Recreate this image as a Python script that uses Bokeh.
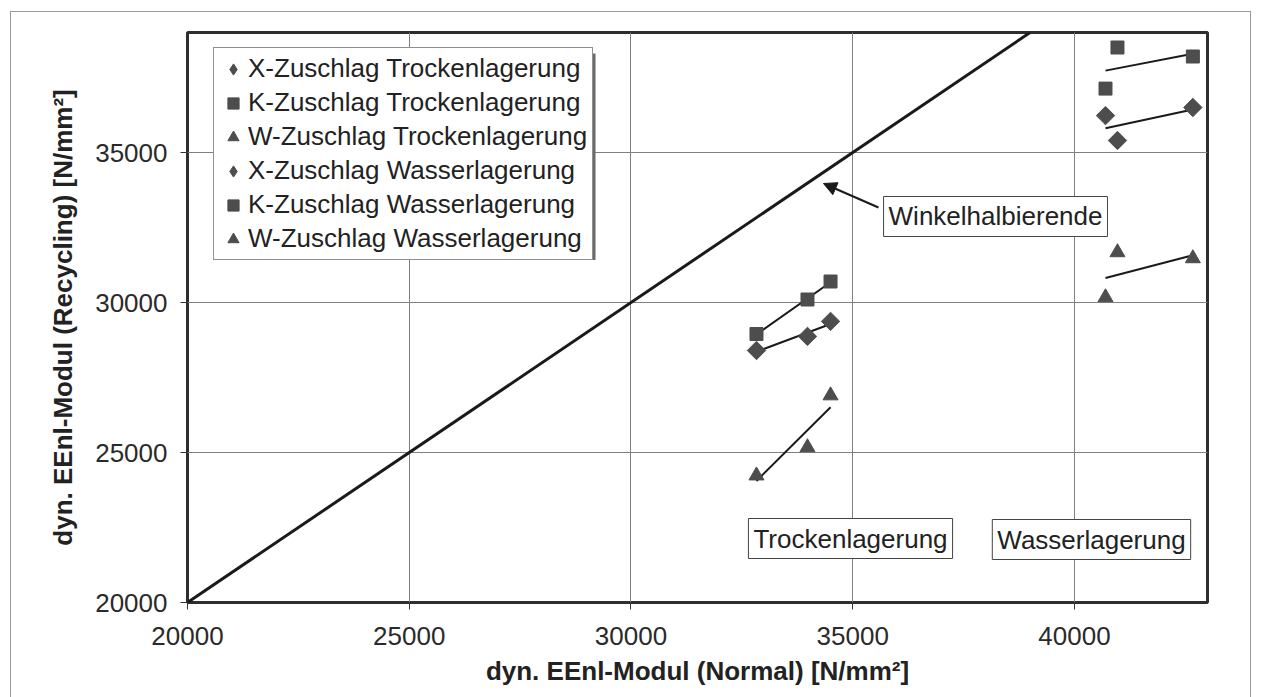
import numpy as np
from bokeh.plotting import figure
from bokeh.models import Label, Arrow, NormalHead, Legend, LegendItem, Range1d, BoxAnnotation
from bokeh.embed import file_html
from bokeh.resources import INLINE

# ---------------- data ----------------
x_trocken = [32830, 33980, 34500]
x_wasser = [40700, 40970, 42670]
x_zuschlag_trocken = [28400, 28870, 29370]
k_zuschlag_trocken = [28950, 30100, 30700]
w_zuschlag_trocken = [24230, 25170, 26900]
x_zuschlag_wasser = [36230, 35400, 36500]
k_zuschlag_wasser = [37130, 38500, 38200]
w_zuschlag_wasser = [30170, 31670, 31470]
series_names = [
    "X-Zuschlag Trockenlagerung",
    "K-Zuschlag Trockenlagerung",
    "W-Zuschlag Trockenlagerung",
    "X-Zuschlag Wasserlagerung",
    "K-Zuschlag Wasserlagerung",
    "W-Zuschlag Wasserlagerung",
]
x_ticks = [20000, 25000, 30000, 35000, 40000]
y_ticks = [20000, 25000, 30000, 35000]
diagonal = [20000, 39000]
x_title = "dyn. EEnl-Modul (Normal) [N/mm²]"
y_title = "dyn. EEnl-Modul (Recycling) [N/mm²]"
annotation_texts = ["Winkelhalbierende", "Trockenlagerung", "Wasserlagerung"]

FONT = "Liberation Sans"
MARK = "#4d4d4d"
LINE = "#1a1a1a"
BORDER = "#9a9a9a"

p = figure(frame_width=1020, frame_height=570,
           x_range=Range1d(20000, 43000), y_range=Range1d(20000, 39000),
           output_backend="svg", toolbar_location=None,
           min_border_left=187, min_border_right=55,
           min_border_top=32, min_border_bottom=95,
           background_fill_color="white", border_fill_color="white",
           border_fill_alpha=0)
g = f"linear-gradient({BORDER},{BORDER})"
p.styles = {"background": (f"{g} 11px 11px / 1240px 1px no-repeat, "
                           f"{g} 10px 11px / 1px 700px no-repeat, "
                           f"{g} 1250px 11px / 1px 700px no-repeat, white")}

p.outline_line_color = "#2e2e2e"
p.outline_line_width = 3

for ax, ticks in ((p.xaxis, x_ticks), (p.yaxis, y_ticks)):
    ax.ticker = ticks
    ax.axis_line_color = None
    ax.major_tick_out = 7
    ax.major_tick_in = 0
    ax.major_tick_line_color = "#333333"
    ax.minor_tick_line_color = None
    ax.major_label_text_font = FONT
    ax.major_label_text_font_size = "26px"
    ax.major_label_text_color = "#2a2a2a"
    ax.axis_label_text_font = FONT
    ax.axis_label_text_font_size = "26px"
    ax.axis_label_text_font_style = "bold"
    ax.axis_label_text_color = "#222222"
p.xaxis.major_label_standoff = 17
p.yaxis.major_label_standoff = 13
p.xaxis.axis_label = x_title
p.yaxis.axis_label = y_title
p.xaxis.axis_label_standoff = 8
p.yaxis.axis_label_standoff = 14

p.xgrid.ticker = x_ticks
p.ygrid.ticker = y_ticks
p.grid.grid_line_color = "#808080"
p.grid.grid_line_width = 1

# diagonal (Winkelhalbierende)
p.line(diagonal, diagonal, line_color=LINE, line_width=3)

series = [
    (x_trocken, x_zuschlag_trocken, "square", 13, np.pi / 4),
    (x_trocken, k_zuschlag_trocken, "square", 13, 0),
    (x_trocken, w_zuschlag_trocken, "triangle", 15, 0),
    (x_wasser, x_zuschlag_wasser, "square", 13, np.pi / 4),
    (x_wasser, k_zuschlag_wasser, "square", 13, 0),
    (x_wasser, w_zuschlag_wasser, "triangle", 15, 0),
]
legend_markers = ["diamond", "square", "triangle", "diamond", "square", "triangle"]

# linear trend lines
for xs, ys, *_ in series:
    c = np.polyfit(xs, ys, 1)
    xe = [min(xs), max(xs)]
    p.line(xe, list(np.polyval(c, xe)), line_color=LINE, line_width=2)

items = []
for (xs, ys, mk, sz, ang), name, lmk in zip(series, series_names, legend_markers):
    rl = None
    if lmk != mk:
        # diamond glyph for the legend, hidden below the rotated square in the plot
        rl = p.scatter(xs, ys, marker=lmk, size=9, fill_color=MARK, line_color=MARK)
    r = p.scatter(xs, ys, marker=mk, size=sz, angle=ang,
                  fill_color=MARK, line_color=MARK)
    items.append(LegendItem(label=name, renderers=[rl if rl is not None else r]))

# legend shadow
p.add_layout(BoxAnnotation(left=20660, right=29200, top=38300, bottom=31420,
                           fill_color="#6a6a6a", fill_alpha=1, line_color=None))

legend = Legend(items=items, location=(26, 342),
                label_text_font=FONT, label_text_font_size="26px",
                label_text_color="#222222",
                glyph_width=28, glyph_height=30, label_height=30,
                spacing=3, padding=5, margin=0, label_standoff=1,
                border_line_color="#222222", border_line_width=1,
                background_fill_color="white", background_fill_alpha=1)
p.add_layout(legend)

# text boxes
for (tx, ty), t in zip([(38220, 32867), (34950, 22133), (40384, 22100)], annotation_texts):
    p.add_layout(Label(x=tx, y=ty, text=t, text_align="center", text_baseline="middle",
                       text_font=FONT, text_font_size="26px", text_color="#222222",
                       border_line_color="#444444", border_line_width=1,
                       background_fill_color="white", padding=5))

p.add_layout(Arrow(x_start=35581, y_start=33167, x_end=34341, y_end=33967,
                   line_color=LINE, line_width=2,
                   end=NormalHead(size=13, fill_color=LINE, line_color=LINE)))

open("out.html", "w").write(file_html(p, INLINE))
